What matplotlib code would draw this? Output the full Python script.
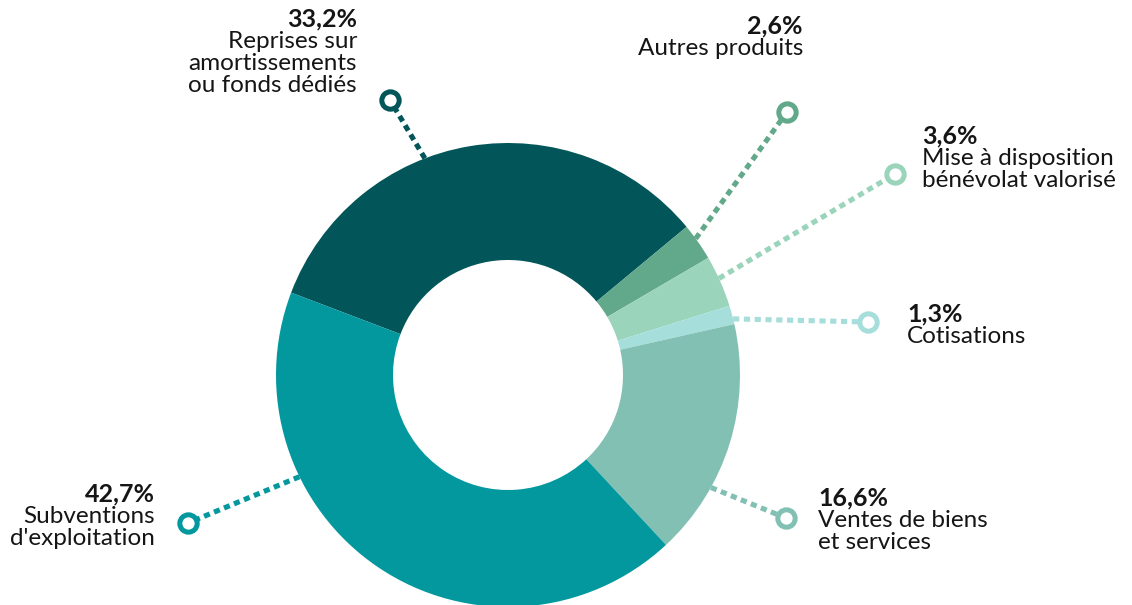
import numpy as np
import matplotlib
matplotlib.use("Agg")
import matplotlib.pyplot as plt

# ---- data ----
categories = ["Reprises sur\namortissements\nou fonds dédiés", "Autres produits",
              "Mise à disposition\nbénévolat valorisé", "Cotisations",
              "Ventes de biens\net services", "Subventions\nd'exploitation"]
values = [33.2, 2.6, 3.6, 1.3, 16.6, 42.7]
colors = ["#02565A", "#62A88A", "#9AD4BB", "#A6DEDB", "#82C0B4", "#03989E"]

# ---- layout (pixels) ----
W, H = 1132, 605
cx, cy = 508, 375
R_out, R_in = 232, 115
label_anchor = [(357, 26, "right"), (803, 33, "right"), (922, 143, "left"),
                (907, 321, "left"), (818, 505, "left"), (155, 501, "right")]
dot_pos = [(390, 100), (787, 112), (895, 174), (868, 322), (786, 518), (188, 523)]
leader_angle = [111, 36, 24.6, 14, -29, 206]

plt.rcParams["font.family"] = ["Lato", "DejaVu Sans"]
fig = plt.figure(figsize=(W / 100, H / 100), dpi=100)
ax = fig.add_axes([0, 0, 1, 1])

start = 159.2
ax.pie(values, colors=colors, startangle=start, counterclock=False,
       radius=R_out, center=(cx, H - cy),
       wedgeprops=dict(width=R_out - R_in, linewidth=0), frame=True)

for i in range(len(values)):
    a = np.deg2rad(leader_angle[i])
    x0 = cx + R_out * np.cos(a)
    y0 = (H - cy) + R_out * np.sin(a)
    x1, y1 = dot_pos[i][0], H - dot_pos[i][1]
    ax.plot([x0, x1], [y0, y1], color=colors[i], lw=3.7,
            linestyle=(0, (1.2, 0.9)), solid_capstyle="butt",
            dash_capstyle="butt", zorder=0)
    ax.plot([x1], [y1], marker="o", ms=12.5, mew=3.6, mec=colors[i],
            mfc="white", zorder=5)
    lx, ly, ha = label_anchor[i]
    pct = f"{values[i]:.1f}%".replace(".", ",")
    lines = [pct] + categories[i].split("\n")
    for k, t in enumerate(lines):
        ax.text(lx, H - (ly + 22 * k), t, ha=ha, va="baseline",
                fontsize=18 if k == 0 else 17.5, color="#151515",
                fontweight="bold" if k == 0 else "normal")

ax.set_xlim(0, W)
ax.set_ylim(0, H)
ax.set_aspect("equal")
ax.axis("off")
fig.savefig("out.png", dpi=100)
